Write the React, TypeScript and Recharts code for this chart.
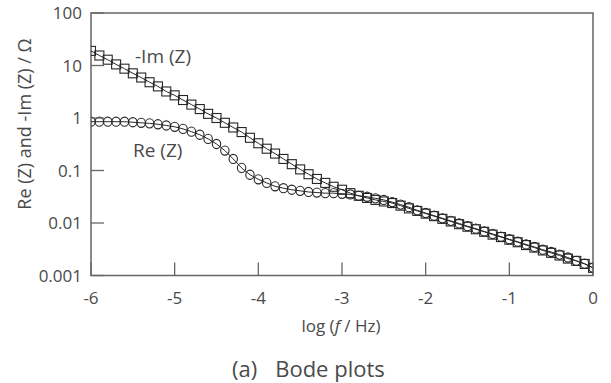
import React from "react";
import { LineChart, Line, XAxis, YAxis, ReferenceArea } from "recharts";

// log(f / Hz), 10 points per decade
const logF = [
  -6.0, -5.9, -5.8, -5.7, -5.6, -5.5, -5.4, -5.3, -5.2, -5.1,
  -5.0, -4.9, -4.8, -4.7, -4.6, -4.5, -4.4, -4.3, -4.2, -4.1,
  -4.0, -3.9, -3.8, -3.7, -3.6, -3.5, -3.4, -3.3, -3.2, -3.1,
  -3.0, -2.9, -2.8, -2.7, -2.6, -2.5, -2.4, -2.3, -2.2, -2.1,
  -2.0, -1.9, -1.8, -1.7, -1.6, -1.5, -1.4, -1.3, -1.2, -1.1,
  -1.0, -0.9, -0.8, -0.7, -0.6, -0.5, -0.4, -0.3, -0.2, -0.1, 0.0,
];

// -Im(Z) / Ω
const negImZ = [
  19, 15.5, 12.9, 10.5, 8.7, 7.1, 5.9, 4.8, 4.0, 3.2,
  2.7, 2.2, 1.8, 1.48, 1.2, 1.0, 0.81, 0.66, 0.54, 0.42,
  0.33, 0.26, 0.21, 0.166, 0.132, 0.105, 0.085, 0.069, 0.058, 0.049,
  0.043, 0.037, 0.033, 0.03, 0.0275, 0.0257, 0.024, 0.0214, 0.019, 0.017,
  0.0151, 0.0135, 0.012, 0.0107, 0.0095, 0.0085, 0.0076, 0.0068, 0.006, 0.0054,
  0.0048, 0.0043, 0.0038, 0.0034, 0.003, 0.0027, 0.0024, 0.0021, 0.0019, 0.00166, 0.0014,
];

// Re(Z) / Ω
const reZ = [
  0.85, 0.85, 0.85, 0.85, 0.85, 0.83, 0.81, 0.79, 0.76, 0.72,
  0.68, 0.62, 0.55, 0.48, 0.4, 0.32, 0.24, 0.166, 0.112, 0.083,
  0.068, 0.058, 0.05, 0.046, 0.043, 0.041, 0.039, 0.038, 0.037, 0.037,
  0.036, 0.035, 0.033, 0.0316, 0.0295, 0.0275, 0.025, 0.0224, 0.02, 0.0174,
  0.0155, 0.0138, 0.0123, 0.011, 0.0098, 0.0087, 0.0078, 0.0069, 0.0062, 0.0055,
  0.0049, 0.0044, 0.0039, 0.0035, 0.0031, 0.0028, 0.0025, 0.0022, 0.0019, 0.00168, 0.0014,
];

const xTicks = [-6, -5, -4, -3, -2, -1, 0];
const yTicks = [0.001, 0.01, 0.1, 1, 10, 100];

const data = logF.map((x, i) => ({ x, im: negImZ[i], re: reZ[i] }));

const FONT = "'Open Sans', 'Noto Sans', sans-serif";
const TEXT = "#4a4a4a";
const AXIS = "#666";
const MARK = "#262626";

const XTick = (props: any) => {
  const { x, y, payload } = props;
  return (
    <g>
      <line x1={x} y1={y} x2={x} y2={y - 13} stroke={AXIS} strokeWidth={1.3} />
      <text x={x} y={y + 28} textAnchor="middle" fontSize={17} fill={TEXT} fontFamily={FONT}>
        {payload.value}
      </text>
    </g>
  );
};

const YTick = (props: any) => {
  const { x, y, payload } = props;
  return (
    <g>
      <line x1={x} y1={y} x2={x + 13} y2={y} stroke={AXIS} strokeWidth={1.3} />
      <text x={x - 9} y={y + 6} textAnchor="end" fontSize={17} fill={TEXT} fontFamily={FONT}>
        {String(payload.value)}
      </text>
    </g>
  );
};

const SquareDot = (props: any) => {
  const { cx, cy, index } = props;
  if (cx == null || cy == null) return <g key={index} />;
  return <rect key={index} x={cx - 4.5} y={cy - 4.5} width={9} height={9} fill="none" stroke={MARK} strokeWidth={1.1} />;
};

const CircleDot = (props: any) => {
  const { cx, cy, index } = props;
  if (cx == null || cy == null) return <g key={index} />;
  return <ellipse key={index} cx={cx} cy={cy} rx={4.2} ry={4.6} fill="none" stroke={MARK} strokeWidth={1.1} />;
};

export default function App() {
  return (
    <div style={{ position: "absolute", left: 0, top: 0, width: 611, height: 383, background: "#fff" }}>
      <LineChart
        width={611}
        height={383}
        data={data}
        margin={{ top: 13, right: 18, left: 0, bottom: 0 }}
      >
        <XAxis
          dataKey="x"
          type="number"
          domain={[-6, 0]}
          ticks={xTicks}
          height={107.5}
          tickSize={0}
          tickMargin={0}
          tickLine={false}
          tick={<XTick />}
          axisLine={false}
          interval={0}
          allowDataOverflow
        />
        <YAxis
          type="number"
          scale="log"
          domain={[0.001, 100]}
          ticks={yTicks}
          width={91}
          tickSize={0}
          tickMargin={0}
          tickLine={false}
          tick={<YTick />}
          axisLine={false}
          interval={0}
          allowDataOverflow
        />
        <ReferenceArea
          x1={-6}
          x2={0}
          y1={0.001}
          y2={100}
          fill="none"
          stroke={AXIS}
          strokeWidth={1.5}
          fillOpacity={0}
        />
        <Line
          dataKey="re"
          stroke={MARK}
          strokeWidth={1}
          dot={CircleDot}
          activeDot={false}
          isAnimationActive={false}
        />
        <Line
          dataKey="im"
          stroke={MARK}
          strokeWidth={1}
          dot={SquareDot}
          activeDot={false}
          isAnimationActive={false}
        />
        <text x={135} y={63} fontSize={19} fill={TEXT} fontFamily={FONT}>-Im (Z)</text>
        <text x={133} y={157} fontSize={19} fill={TEXT} fontFamily={FONT}>Re (Z)</text>
        <text
          x={24}
          y={124}
          transform="rotate(-90 24 124)"
          textAnchor="middle"
          dominantBaseline="central"
          fontSize={18}
          fill={TEXT}
          fontFamily={FONT}
        >
          Re (Z) and -Im (Z) / Ω
        </text>
        <text x={341} y={332} textAnchor="middle" fontSize={17} fill={TEXT} fontFamily={FONT}>
          log (<tspan fontStyle="italic">f</tspan> / Hz)
        </text>
        <text x={232} y={377} fontSize={22} fill={TEXT} fontFamily={FONT}>
          (a)
          <tspan dx={18}>Bode plots</tspan>
        </text>
      </LineChart>
    </div>
  );
}
